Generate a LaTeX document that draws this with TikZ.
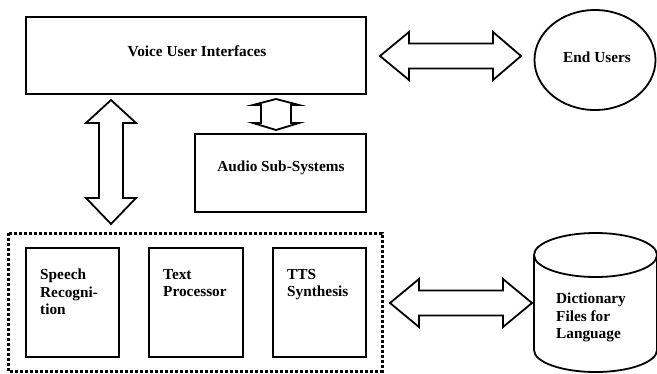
\documentclass[tikz,border=0pt]{standalone}
\usepackage{fontspec}
\setmainfont{Liberation Serif}
\usetikzlibrary{shapes.geometric}
\tikzset{
  x=1pt, y=-1pt,
  box/.style={draw, line width=1.8pt, inner sep=0pt},
  blk/.style={draw, line width=1.8pt, fill=white, line join=miter},
  lbl/.style={font=\fontsize{15.3}{17.5}\selectfont\bfseries},
  sub/.style={draw, line width=1.8pt, anchor=north west, inner sep=0pt},
  subtxt/.style={lbl, anchor=north west, align=left, inner sep=0pt},
  dotbox/.style={draw, line width=3pt, dash pattern=on 3pt off 2pt},
}
\begin{document}
\begin{tikzpicture}
\useasboundingbox (0,0) rectangle (657,373);
% Voice User Interfaces
\node[box, minimum width=340pt, minimum height=77pt] (vui) at (196,55.5) {};
\node[lbl] (vuit) at (197,51) {Voice User Interfaces};
% End Users
\node[draw, ellipse, line width=1.8pt, minimum width=121pt, minimum height=100pt, inner sep=0pt] (eu) at (595,60) {};
\node[lbl] (eut) at (597,57) {End Users};
% Audio Sub-Systems
\node[box, minimum width=171pt, minimum height=78pt] (aud) at (280.5,173) {};
\node[lbl] (audt) at (281,168) {Audio Sub-Systems};
% Dotted group
\draw[dotbox] (8,233) rectangle (382,371);
% Sub boxes
\draw[line width=1.8pt] (26,248) rectangle (119,357);
\node[subtxt] (sr) at (40,269) {Speech\\Recogni-\\tion};
\draw[line width=1.8pt] (149,248) rectangle (243,357);
\node[subtxt] (tp) at (163,269) {Text\\Processor};
\draw[line width=1.8pt] (273,248) rectangle (366,357);
\node[subtxt] (tts) at (287,269) {TTS\\Synthesis};
% Cylinder
\draw[line width=1.8pt, fill=white] (534,255) -- (534,350) arc[start angle=180, end angle=360, x radius=61.5, y radius=-22] -- (657,255);
\draw[line width=1.8pt] (595.5,255) ellipse[x radius=61.5, y radius=22];
\node[subtxt] (dict) at (556,293) {Dictionary\\Files for\\Language};
% Block arrows
\draw[blk] (380,56) -- (409,32) -- (409,43.5) -- (493,43.5) -- (493,32) -- (521,56)
  -- (493,80) -- (493,68.5) -- (409,68.5) -- (409,80) -- cycle;
\draw[blk] (390,303) -- (419,279) -- (419,290.5) -- (503,290.5) -- (503,279) -- (532,303)
  -- (503,327) -- (503,315.5) -- (419,315.5) -- (419,327) -- cycle;
\draw[blk] (111,100) -- (136,123) -- (123,123) -- (123,198) -- (136,198) -- (111,224)
  -- (86,198) -- (99,198) -- (99,123) -- (86,123) -- cycle;
\draw[blk] (276,99) -- (299,105) -- (291,105) -- (291,123) -- (299,123) -- (276,130)
  -- (253,123) -- (261,123) -- (261,105) -- (253,105) -- cycle;
\end{tikzpicture}
\end{document}
